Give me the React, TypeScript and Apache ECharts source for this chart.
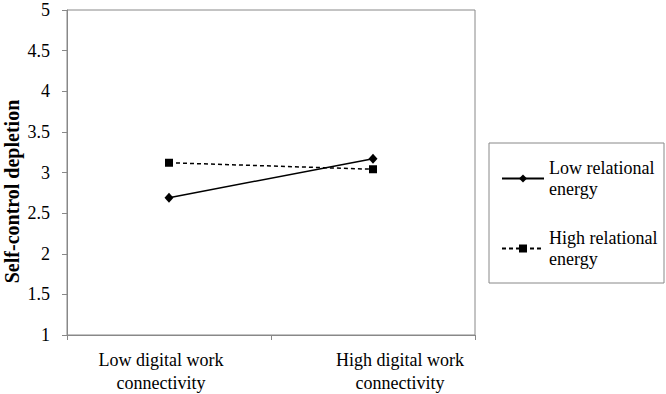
import React, { useEffect, useRef } from "react";
import * as echarts from "echarts";

const categories = ["Low digital work\nconnectivity", "High digital work\nconnectivity"];
const lowRelational = [2.69, 3.17];
const highRelational = [3.12, 3.04];
const seriesNames = ["Low relational energy", "High relational energy"];
const yTitle = "Self-control depletion";

const FONT = "Liberation Serif";
const AXIS_GRAY = "#888888";

export default function App() {
  const ref = useRef<HTMLDivElement>(null);
  useEffect(() => {
    document.body.style.margin = "0";
    if (!ref.current) return;
    const chart = echarts.init(ref.current, null, { renderer: "svg" });
    chart.setOption({
      animation: false,
      backgroundColor: "#ffffff",
      textStyle: { fontFamily: FONT, color: "#000" },
      grid: {
        left: 67,
        right: 191,
        top: 10,
        bottom: 59,
        containLabel: false,
        outerBoundsMode: "none",
        show: true,
        borderColor: AXIS_GRAY,
        borderWidth: 1,
      },
      xAxis: {
        type: "category",
        data: categories,
        boundaryGap: true,
        axisLine: { lineStyle: { color: AXIS_GRAY, width: 1 } },
        axisTick: { show: true, length: 5, alignWithLabel: false, lineStyle: { color: AXIS_GRAY } },
        axisLabel: {
          margin: 13,
          interval: 0,
          fontFamily: FONT,
          fontSize: 18,
          lineHeight: 23,
          color: "#000",
          formatter: (v: string, i: number) => {
            const lines = v.split("\n");
            const tag = i === 0 ? "l" : "r";
            return lines.map((s) => `{${tag}|${s}}`).join("\n");
          },
          rich: {
            l: { fontFamily: FONT, fontSize: 18, lineHeight: 23, color: "#000", padding: [0, 16, 0, 0] },
            r: { fontFamily: FONT, fontSize: 18, lineHeight: 23, color: "#000", padding: [0, 0, 0, 54] },
          },
        },
        splitLine: { show: false },
      },
      yAxis: {
        type: "value",
        min: 1,
        max: 5,
        interval: 0.5,
        name: yTitle,
        nameLocation: "middle",
        nameGap: 45,
        nameMoveOverlap: false,
        nameTextStyle: {
          fontFamily: FONT,
          fontSize: 20,
          fontWeight: "bold",
          color: "#000",
          padding: [0, 38, 0, 0],
        },
        axisLine: { show: true, lineStyle: { color: AXIS_GRAY, width: 1 } },
        axisTick: { show: true, length: 5, lineStyle: { color: AXIS_GRAY } },
        axisLabel: { margin: 17, fontFamily: FONT, fontSize: 18, color: "#000" },
        splitLine: { show: false },
      },
      legend: {
        orient: "vertical",
        left: 501,
        top: 147,
        padding: 0,
        itemWidth: 42,
        itemHeight: 10,
        itemGap: 7,
        formatter: (name: string) => name.replace(" energy", "\nenergy"),
        textStyle: {
          fontFamily: FONT,
          fontSize: 18,
          lineHeight: 21,
          color: "#000",
          padding: [21, 0, 0, 0],
        },
        data: seriesNames,
      },
      graphic: [
        {
          type: "rect",
          shape: { x: 489, y: 143, width: 175, height: 140 },
          style: { fill: "none", stroke: AXIS_GRAY, lineWidth: 1 },
          silent: true,
        },
      ],
      series: [
        {
          name: seriesNames[0],
          type: "line",
          data: lowRelational,
          symbol: "diamond",
          symbolSize: [9, 10],
          lineStyle: { color: "#000", width: 1.5, type: "solid" },
          itemStyle: { color: "#000" },
        },
        {
          name: seriesNames[1],
          type: "line",
          data: highRelational,
          symbol: "rect",
          symbolSize: 8,
          lineStyle: { color: "#000", width: 1.5, type: [4, 3] },
          itemStyle: { color: "#000" },
        },
      ],
    });
    return () => chart.dispose();
  }, []);
  return <div ref={ref} style={{ width: 666, height: 394 }} />;
}
